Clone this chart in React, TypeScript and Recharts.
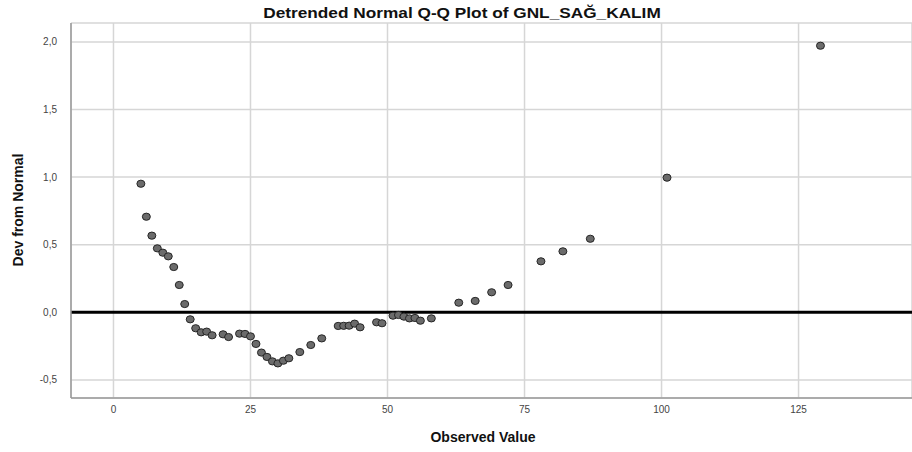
import React from "react";
import {
  ScatterChart,
  Scatter,
  XAxis,
  YAxis,
  CartesianGrid,
  ReferenceLine,
} from "recharts";

// Observed values and their deviation from the normal line
const observedValues = [
  5, 6, 7, 8, 9, 10, 11, 12, 13, 14, 15, 16, 17, 18, 20, 21, 23, 24, 25, 26,
  27, 28, 29, 30, 31, 32, 34, 36, 38, 41, 42, 43, 44, 45, 48, 49, 51, 52, 53,
  54, 55, 56, 58, 63, 66, 69, 72, 78, 82, 87, 101, 129,
];
const devFromNormal = [
  0.951, 0.707, 0.567, 0.473, 0.441, 0.414, 0.335, 0.202, 0.061, -0.052,
  -0.118, -0.148, -0.143, -0.17, -0.163, -0.183, -0.158, -0.16, -0.178,
  -0.234, -0.298, -0.33, -0.363, -0.378, -0.358, -0.34, -0.294, -0.242,
  -0.193, -0.101, -0.1, -0.099, -0.084, -0.111, -0.074, -0.081, -0.025,
  -0.02, -0.032, -0.045, -0.042, -0.062, -0.045, 0.071, 0.084, 0.148, 0.202,
  0.377, 0.451, 0.544, 0.996, 1.972,
];
const xTicks = [0, 25, 50, 75, 100, 125];
const yTicks = [-0.5, 0, 0.5, 1, 1.5, 2];

const points = observedValues.map((x, i) => ({ x, y: devFromNormal[i] }));

const FONT = '"Liberation Sans", Arial, sans-serif';

const Dot = (props: any) => {
  const { cx, cy } = props;
  if (cx == null || cy == null) return null;
  return (
    <ellipse
      cx={cx}
      cy={cy}
      rx={4}
      ry={3.6}
      fill="#6b6b6b"
      stroke="#262626"
      strokeWidth={1}
    />
  );
};

const YLabel = () => (
  <text
    x={0}
    y={0}
    transform="translate(23,210) rotate(-90)"
    textAnchor="middle"
    fontFamily={FONT}
    fontWeight="bold"
    fontSize={14}
    fill="#111"
  >
    Dev from Normal
  </text>
);

const XLabel = () => (
  <text
    x={483}
    y={442}
    textAnchor="middle"
    fontFamily={FONT}
    fontWeight="bold"
    fontSize={14}
    fill="#111"
  >
    Observed Value
  </text>
);

const fmt = (v: number) => v.toFixed(1).replace(".", ",");

export default function App() {
  return (
    <div
      style={{
        position: "absolute",
        left: 0,
        top: 0,
        width: 912,
        height: 452,
        background: "#fff",
      }}
    >
      <ScatterChart
        width={912}
        height={452}
        margin={{ top: 23, right: 0, bottom: 0, left: 0 }}
      >
        <CartesianGrid stroke="#d6d6d6" strokeWidth={1.5} />
        <XAxis
          type="number"
          dataKey="x"
          domain={[-7.75, 145.7]}
          ticks={xTicks}
          allowDataOverflow
          height={54}
          tickLine={false}
          axisLine={{ stroke: "#9a9a9a", strokeWidth: 1.5 }}
          tick={{ fontFamily: FONT, fontSize: 10, fill: "#444" }}
          tickMargin={2}
          label={<XLabel />}
        />
        <YAxis
          type="number"
          dataKey="y"
          domain={[-0.634, 2.14]}
          ticks={yTicks}
          allowDataOverflow
          width={71}
          tickLine={false}
          axisLine={{ stroke: "#9a9a9a", strokeWidth: 1.5 }}
          tick={{ fontFamily: FONT, fontSize: 10, fill: "#444" }}
          tickFormatter={fmt}
          tickMargin={8}
          label={<YLabel />}
        />
        <ReferenceLine y={0} stroke="#000" strokeWidth={3} />
        <Scatter data={points} shape={<Dot />} isAnimationActive={false} />
      </ScatterChart>
      <svg
        width={912}
        height={24}
        style={{ position: "absolute", left: 0, top: 0, pointerEvents: "none" }}
      >
        <text
          x={0}
          y={0}
          transform="translate(462,17.5) scale(1.15,1)"
          textAnchor="middle"
          fontFamily={FONT}
          fontWeight="bold"
          fontSize={15}
          fill="#111"
        >
          Detrended Normal Q-Q Plot of GNL_SAĞ_KALIM
        </text>
      </svg>
    </div>
  );
}
